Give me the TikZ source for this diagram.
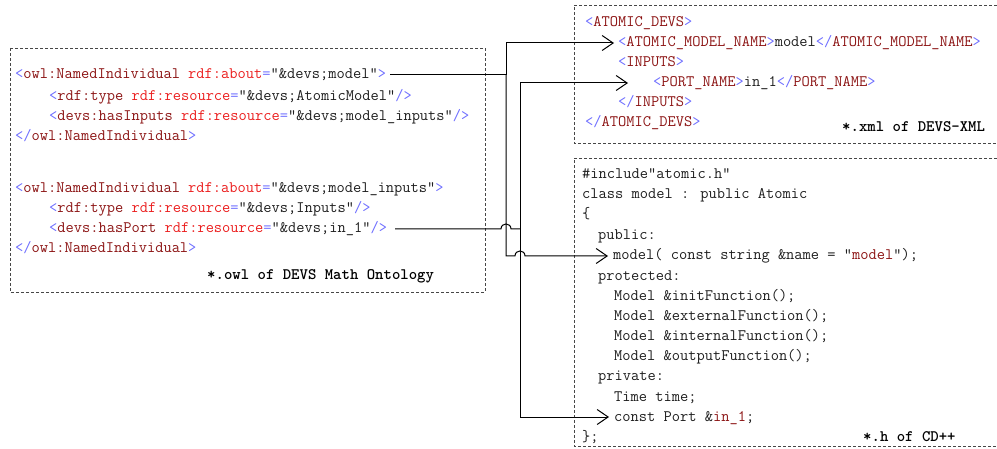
\documentclass[tikz,border=0pt]{standalone}
\usetikzlibrary{arrows.meta,calc}

\definecolor{tagdelim}{RGB}{110,110,255}
\definecolor{tagname}{RGB}{140,20,20}
\definecolor{attrname}{RGB}{235,30,30}
\definecolor{codetext}{RGB}{30,30,30}
\definecolor{framegray}{RGB}{70,70,70}

% syntax colouring helpers
\newcommand\tagD[1]{\textcolor{tagdelim}{#1}}
\newcommand\tagN[1]{\textcolor{tagname}{#1}}
\newcommand\attrN[1]{\textcolor{attrname}{#1}}

\begin{document}
\begin{tikzpicture}[x=1pt,y=-1pt,
  codeline/.style={inner sep=0pt, anchor=west, text height=12pt, text depth=4pt,
    font=\fontsize{16}{20}\selectfont\ttfamily, text=codetext},
  filelabel/.style={codeline, font=\fontsize{16}{20}\selectfont\ttfamily\bfseries, text=black},
  dashframe/.style={draw=framegray, line width=0.9pt, dash pattern=on 3pt off 2pt},
  link/.style={draw=black, line width=1pt},
  barbtip/.style={-{Straight Barb[length=11pt,width=15pt]}}]

\useasboundingbox (0,0) rectangle (997,449);

% ---- frames ----
\draw[dashframe] (10,48) rectangle (485,292);
\draw[dashframe] (997,5) -- (574,5) -- (574,143) -- (997,143);
\draw[dashframe] (997,158) -- (574,158) -- (574,446) -- (997,446);

% ---- OWL file ----
\node[codeline] (owl1) at (15,75) {\tagD{<}\tagN{owl:NamedIndividual} \attrN{rdf:about}\tagD{=}"\&devs;model"\tagD{>}};
\node[codeline] (owl2) at (49,97) {\tagD{<}\tagN{rdf:type} \attrN{rdf:resource}\tagD{=}"\&devs;AtomicModel"\tagD{/>}};
\node[codeline] (owl3) at (49,117) {\tagD{<}\tagN{devs:hasInputs} \attrN{rdf:resource}\tagD{=}"\&devs;model\_inputs"\tagD{/>}};
\node[codeline] (owl4) at (15,137) {\tagD{</}\tagN{owl:NamedIndividual}\tagD{>}};
\node[codeline] (owl5) at (15,189) {\tagD{<}\tagN{owl:NamedIndividual} \attrN{rdf:about}\tagD{=}"\&devs;model\_inputs"\tagD{>}};
\node[codeline] (owl6) at (49,209) {\tagD{<}\tagN{rdf:type} \attrN{rdf:resource}\tagD{=}"\&devs;Inputs"\tagD{/>}};
\node[codeline] (owl7) at (49,229) {\tagD{<}\tagN{devs:hasPort} \attrN{rdf:resource}\tagD{=}"\&devs;in\_1"\tagD{/>}};
\node[codeline] (owl8) at (15,249) {\tagD{</}\tagN{owl:NamedIndividual}\tagD{>}};
\node[filelabel] (owlcap) at (207,276) {*.owl of DEVS Math Ontology};

% ---- DEVS-XML file ----
\node[codeline] (xml1) at (585,23) {\tagD{<}\tagN{ATOMIC\_DEVS}\tagD{>}};
\node[codeline] (xname) at (618,43) {\tagD{<}\tagN{ATOMIC\_MODEL\_NAME}\tagD{>}model\tagD{</}\tagN{ATOMIC\_MODEL\_NAME}\tagD{>}};
\node[codeline] (xml3) at (618,63) {\tagD{<}\tagN{INPUTS}\tagD{>}};
\node[codeline] (xport) at (653,83) {\tagD{<}\tagN{PORT\_NAME}\tagD{>}in\_1\tagD{</}\tagN{PORT\_NAME}\tagD{>}};
\node[codeline] (xml5) at (618,103) {\tagD{</}\tagN{INPUTS}\tagD{>}};
\node[codeline] (xml6) at (585,123) {\tagD{</}\tagN{ATOMIC\_DEVS}\tagD{>}};
\node[filelabel] (xmlcap) at (842,128) {*.xml of DEVS-XML};

% ---- CD++ header ----
\node[codeline] (c1) at (582,175) {\#include"atomic.h"};
\node[codeline] (c2) at (582,195) {class model : public Atomic};
\node[codeline] (c3) at (582,215) {\{};
\node[codeline] (c4) at (598,236) {public:};
\node[codeline] (ctor) at (613,256) {model( const string \&name = "\tagN{model}");};
\node[codeline] (c6) at (598,277) {protected:};
\node[codeline] (c7) at (614,297) {Model \&initFunction();};
\node[codeline] (c8) at (614,317) {Model \&externalFunction();};
\node[codeline] (c9) at (614,337) {Model \&internalFunction();};
\node[codeline] (c10) at (614,357) {Model \&outputFunction();};
\node[codeline] (c11) at (598,377) {private:};
\node[codeline] (c12) at (614,397) {Time time;};
\node[codeline] (cport) at (614,417) {const Port \&\tagN{in\_1};};
\node[codeline] (c14) at (582,437) {\};};
\node[filelabel] (hcap) at (863,437) {*.h of CD++};

% ---- routing buses ----
\coordinate (busA) at (506,0);
\coordinate (busB) at (520,0);

% model name: OWL -> XML and C++ constructor
\draw[link] ([xshift=4pt]owl1.east) -- (owl1.east -| busA);
\draw[link,barbtip] (owl1.east -| busA) |- ([xshift=-4pt]xname.west);
\draw[link,barbtip] (owl1.east -| busA) |- ($(ctor.west -| busB)+(-5,0)$)
  .. controls +(0,-6.7) and +(0,-6.7) .. ($(ctor.west -| busB)+(5,0)$)
  -- ([xshift=-5pt]ctor.west);

% input port: OWL -> XML and C++ port member
\draw[link] ([xshift=8pt]owl7.east) -- ($(owl7.east -| busA)+(-5,0)$)
  .. controls +(0,-6.7) and +(0,-6.7) .. ($(owl7.east -| busA)+(5,0)$)
  -- (owl7.east -| busB);
\draw[link,barbtip] (owl7.east -| busB) |- ([xshift=-25pt]xport.west);
\draw[link,barbtip] (owl7.east -| busB) |- ([xshift=-5pt]cport.west);

\end{tikzpicture}
\end{document}
